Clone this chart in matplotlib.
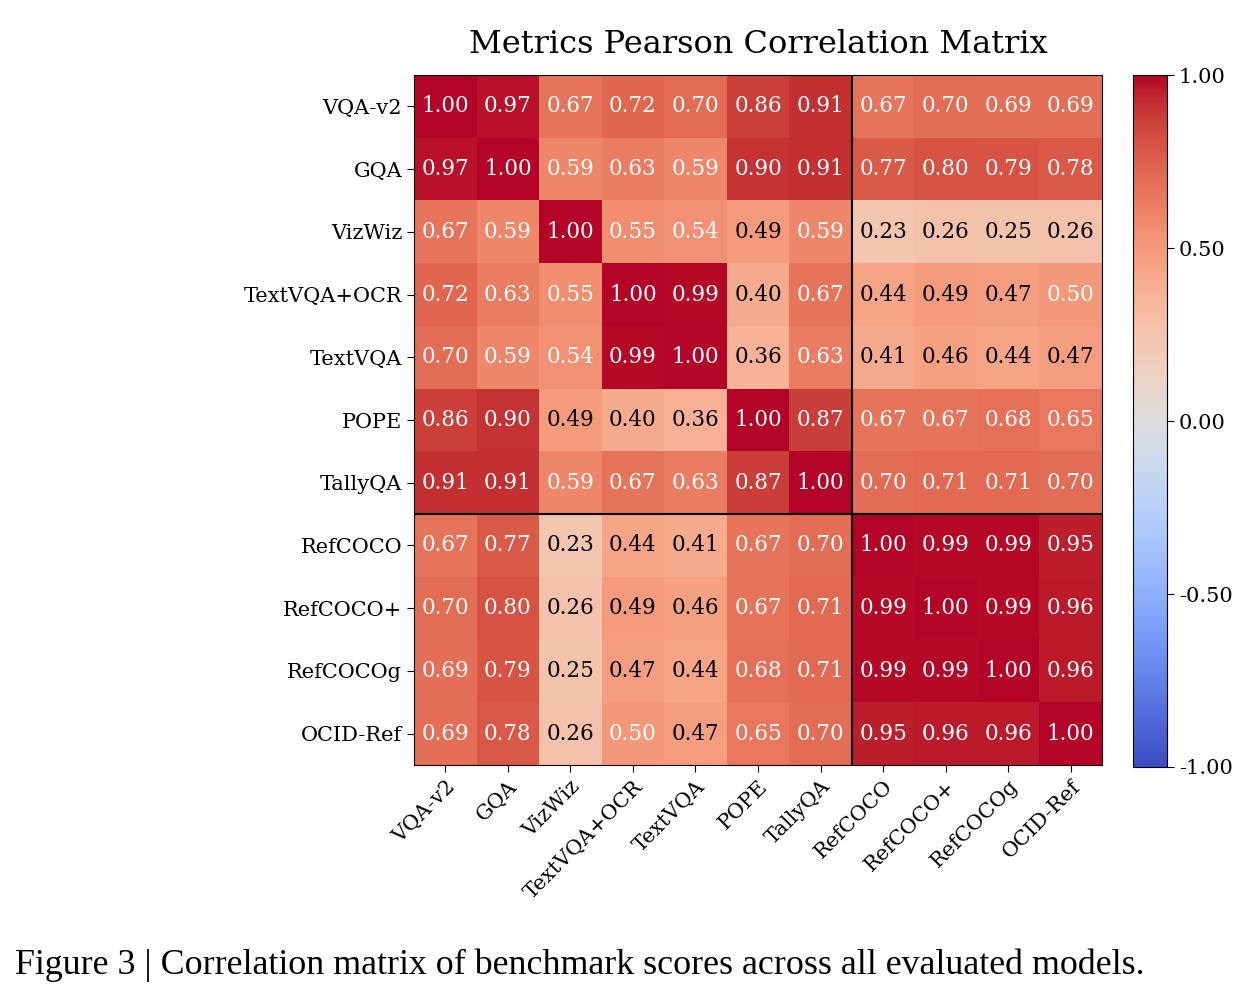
import numpy as np
import matplotlib
matplotlib.use("Agg")
import matplotlib.pyplot as plt

labels = ["VQA-v2", "GQA", "VizWiz", "TextVQA+OCR", "TextVQA", "POPE", "TallyQA",
          "RefCOCO", "RefCOCO+", "RefCOCOg", "OCID-Ref"]

row_vqav2     = [1.00, 0.97, 0.67, 0.72, 0.70, 0.86, 0.91, 0.67, 0.70, 0.69, 0.69]
row_gqa       = [0.97, 1.00, 0.59, 0.63, 0.59, 0.90, 0.91, 0.77, 0.80, 0.79, 0.78]
row_vizwiz    = [0.67, 0.59, 1.00, 0.55, 0.54, 0.49, 0.59, 0.23, 0.26, 0.25, 0.26]
row_textocr   = [0.72, 0.63, 0.55, 1.00, 0.99, 0.40, 0.67, 0.44, 0.49, 0.47, 0.50]
row_textvqa   = [0.70, 0.59, 0.54, 0.99, 1.00, 0.36, 0.63, 0.41, 0.46, 0.44, 0.47]
row_pope      = [0.86, 0.90, 0.49, 0.40, 0.36, 1.00, 0.87, 0.67, 0.67, 0.68, 0.65]
row_tallyqa   = [0.91, 0.91, 0.59, 0.67, 0.63, 0.87, 1.00, 0.70, 0.71, 0.71, 0.70]
row_refcoco   = [0.67, 0.77, 0.23, 0.44, 0.41, 0.67, 0.70, 1.00, 0.99, 0.99, 0.95]
row_refcocop  = [0.70, 0.80, 0.26, 0.49, 0.46, 0.67, 0.71, 0.99, 1.00, 0.99, 0.96]
row_refcocog  = [0.69, 0.79, 0.25, 0.47, 0.44, 0.68, 0.71, 0.99, 0.99, 1.00, 0.96]
row_ocidref   = [0.69, 0.78, 0.26, 0.50, 0.47, 0.65, 0.70, 0.95, 0.96, 0.96, 1.00]

corr = np.array([row_vqav2, row_gqa, row_vizwiz, row_textocr, row_textvqa, row_pope,
                 row_tallyqa, row_refcoco, row_refcocop, row_refcocog, row_ocidref])

colorbar_ticks = [1.0, 0.5, 0.0, -0.5, -1.0]
title = "Metrics Pearson Correlation Matrix"
caption = "Figure 3 | Correlation matrix of benchmark scores across all evaluated models."

plt.rcParams['font.family'] = ['DejaVu Serif']

fig = plt.figure(figsize=(12.57, 10.0), dpi=100)
ax = fig.add_axes([414/1257, 1 - 765/1000, 688/1257, 690/1000])
cax = fig.add_axes([1133/1257, 1 - 767/1000, 34/1257, 692/1000])

im = ax.imshow(corr, cmap="coolwarm", vmin=-1, vmax=1, aspect="auto")
n = len(labels)
ax.set_xticks(range(n))
ax.set_yticks(range(n))
ax.set_xticklabels(labels, rotation=45, ha="right", rotation_mode="anchor", fontsize=15)
ax.set_yticklabels(labels, fontsize=15)
ax.tick_params(length=5)

for i in range(n):
    for j in range(n):
        v = corr[i, j]
        ax.text(j, i, f"{v:.2f}", ha="center", va="center", fontsize=15.5,
                color="white" if v >= 0.5 else "black")

ax.axvline(6.5, color="black", lw=1.5)
ax.axhline(6.5, color="black", lw=1.5)

ax.set_title(title, fontsize=23, pad=16)

cb = fig.colorbar(im, cax=cax)
cb.set_ticks(colorbar_ticks)
cb.set_ticklabels([f"{t:.2f}" for t in colorbar_ticks])
cb.ax.tick_params(labelsize=15, length=5)

fig.text(15/1257, 1 - 965/1000, caption, fontsize=25.8, family="Liberation Serif", va="center", ha="left")

fig.savefig("out.png", dpi=100)
